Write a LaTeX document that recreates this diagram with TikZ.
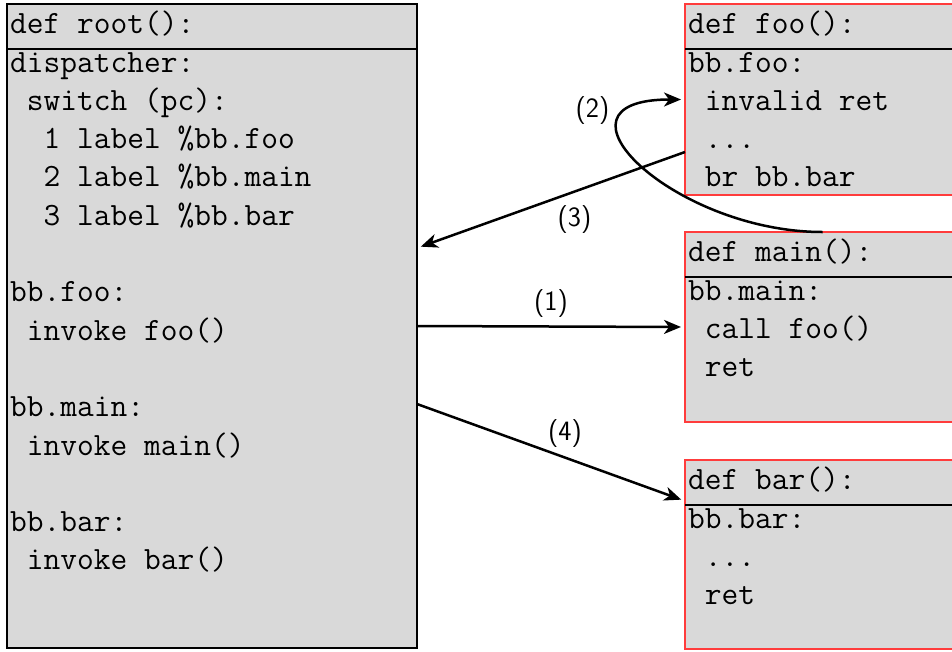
\documentclass[tikz,border=0pt]{standalone}
\usetikzlibrary{arrows.meta}
\definecolor{boxfill}{RGB}{217,217,217}
\definecolor{fnred}{RGB}{255,60,60}
\tikzset{
  fnbox/.style={draw=#1, line width=2.8pt, fill=boxfill, inner sep=0pt, outer sep=0pt, anchor=north west},
  rule/.style={line width=2.8pt},
  code/.style={anchor=base west, inner sep=0pt, font=\fontsize{32.5}{38.3}\selectfont\ttfamily},
  arr/.style={line width=2.5pt, -{Stealth[length=17pt,width=14pt,inset=5pt]}, shorten >=4pt},
  tag/.style={inner sep=0pt, font=\fontsize{28}{33}\selectfont\sffamily}
}
\newcommand{\ind}[1]{\hspace*{#1\fontcharwd\font`x}}
\begin{document}
\begin{tikzpicture}[x=1pt, y=-1pt]
\useasboundingbox (0,0) rectangle (952,651);
\clip (0,0) rectangle (952,651);

% root function with its dispatcher
\node[fnbox=black, minimum width=410pt, minimum height=644pt] (root) at (7,4) {};
\draw[rule] (7,49) -- (417,49);
\node[code] (r-h) at (10,33) {def root():};
\node[code] (r0) at (10,72) {dispatcher:};
\node[code] (r1) at (10,110.3) {\ind{1}switch (pc):};
\node[code] (r2) at (10,148.6) {\ind{2}1 label \%bb.foo};
\node[code] (r3) at (10,186.9) {\ind{2}2 label \%bb.main};
\node[code] (r4) at (10,225.2) {\ind{2}3 label \%bb.bar};
\node[code] (r6) at (10,301.8) {bb.foo:};
\node[code] (r7) at (10,340.1) {\ind{1}invoke foo()};
\node[code] (r9) at (10,416.7) {bb.main:};
\node[code] (r10) at (10,455) {\ind{1}invoke main()};
\node[code] (r12) at (10,531.6) {bb.bar:};
\node[code] (r13) at (10,569.9) {\ind{1}invoke bar()};

% foo
\node[fnbox=fnred, minimum width=275pt, minimum height=191pt] (foo) at (685,4) {};
\draw[rule] (685,49) -- (960,49);
\node[code] (f-h) at (688,33) {def foo():};
\node[code] (f0) at (688,72) {bb.foo:};
\node[code] (f1) at (688,110.3) {\ind{1}invalid ret};
\node[code] (f2) at (688,148.6) {\ind{1}...};
\node[code] (f3) at (688,186.9) {\ind{1}br bb.bar};

% main
\node[fnbox=fnred, minimum width=275pt, minimum height=190pt] (main) at (685,232) {};
\draw[rule] (685,277) -- (960,277);
\node[code] (m-h) at (688,261) {def main():};
\node[code] (m0) at (688,300) {bb.main:};
\node[code] (m1) at (688,338.3) {\ind{1}call foo()};
\node[code] (m2) at (688,376.6) {\ind{1}ret};

% bar
\node[fnbox=fnred, minimum width=275pt, minimum height=189pt] (bar) at (685,460) {};
\draw[rule] (685,505) -- (960,505);
\node[code] (b-h) at (688,489) {def bar():};
\node[code] (b0) at (688,528) {bb.bar:};
\node[code] (b1) at (688,566.3) {\ind{1}...};
\node[code] (b2) at (688,604.6) {\ind{1}ret};

% control flow
\coordinate (foo-out) at (685,152);
\coordinate (root-in) at (417,248);
\coordinate (root-out) at (417,404);
\coordinate (bar-in) at (685,501);

\draw[arr] (root.east) -- (main.west);
\draw[arr] (main.north) to[out=180, in=180, looseness=2.0] (foo.west);
\draw[arr] (foo-out) -- (root-in);
\draw[arr] (root-out) -- (bar-in);

\node[tag] (t1) at (551,303.5) {(1)};
\node[tag] (t2) at (592.5,110.5) {(2)};
\node[tag] (t3) at (574.5,220) {(3)};
\node[tag] (t4) at (565,434) {(4)};
\end{tikzpicture}
\end{document}
